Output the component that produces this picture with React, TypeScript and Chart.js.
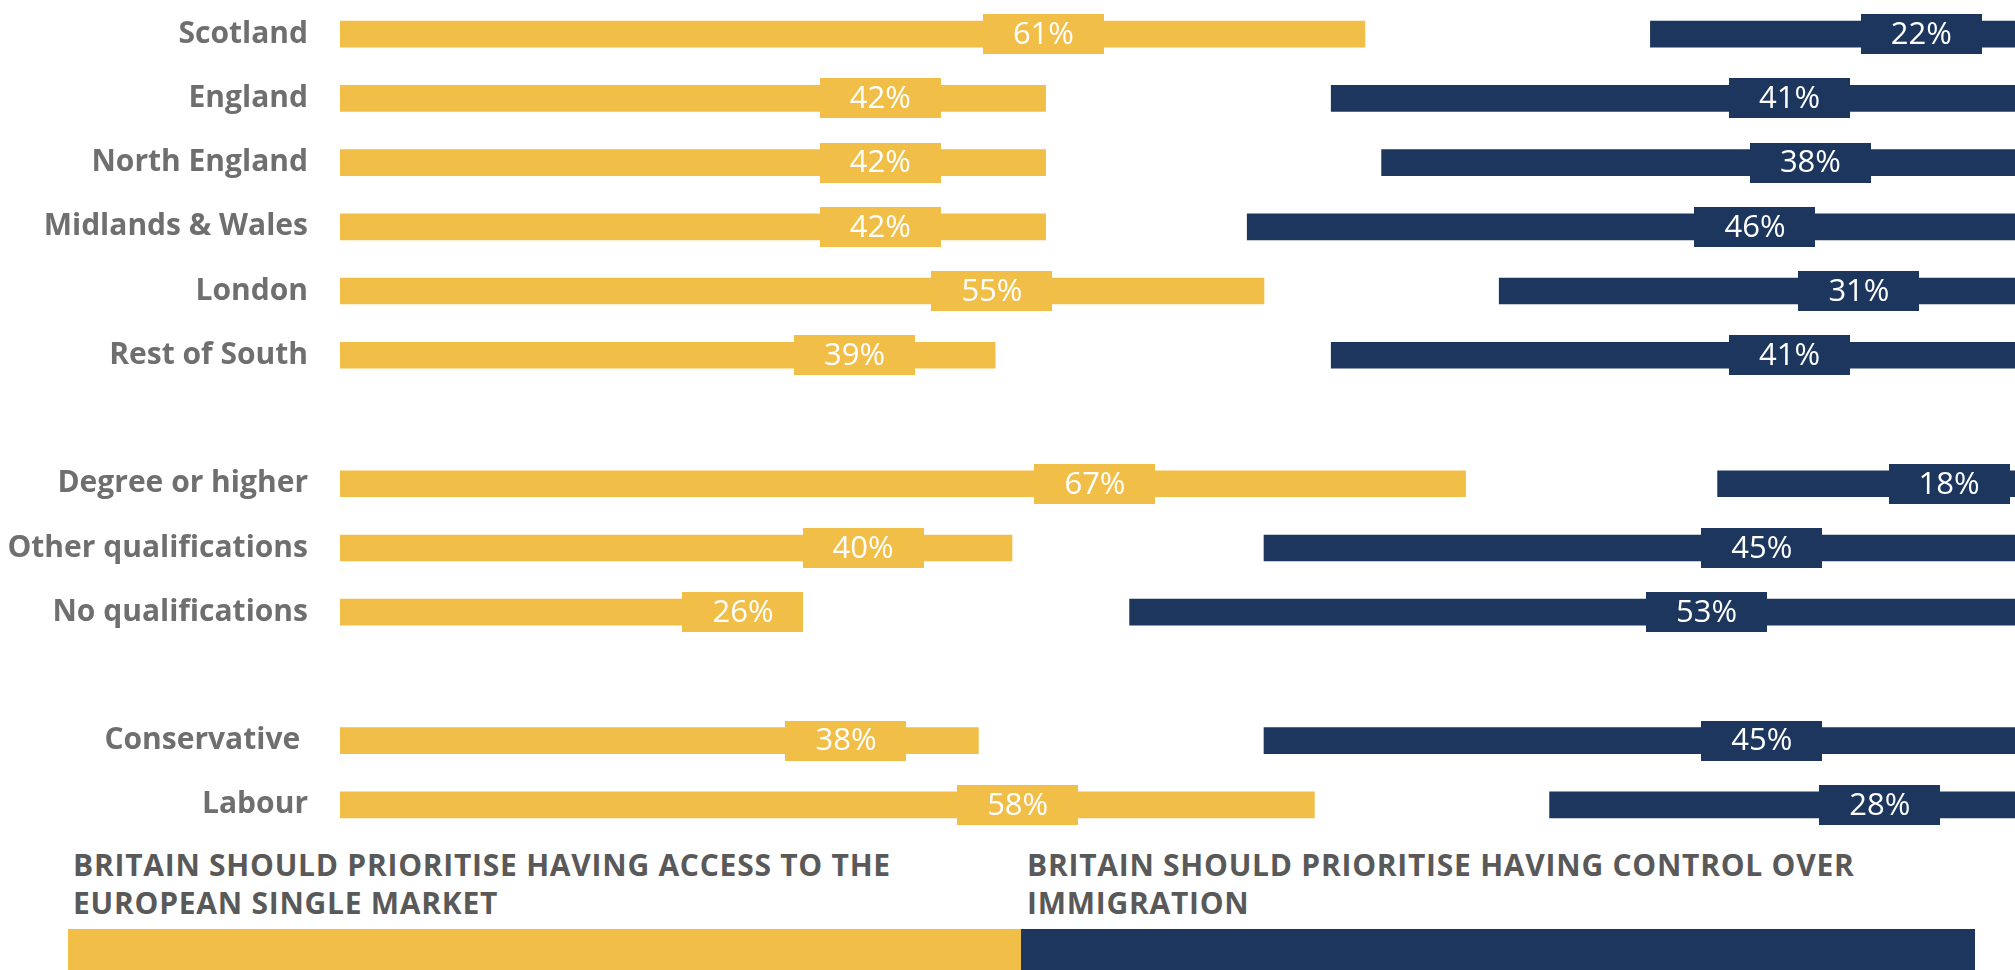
import React, { useEffect, useRef } from "react";
import { Chart, registerables } from "chart.js";

Chart.register(...registerables);

const categories = [
  "Scotland",
  "England",
  "North England",
  "Midlands & Wales",
  "London",
  "Rest of South",
  "",
  "Degree or higher",
  "Other qualifications",
  "No qualifications",
  "",
  "Conservative ",
  "Labour",
];

const singleMarket = [61, 42, 42, 42, 55, 39, null, 67, 40, 26, null, 38, 58];
const immigration = [22, 41, 38, 46, 31, 41, null, 18, 45, 53, null, 45, 28];

const legendLeft = ["BRITAIN SHOULD PRIORITISE HAVING ACCESS TO THE", "EUROPEAN SINGLE MARKET"];
const legendRight = ["BRITAIN SHOULD PRIORITISE HAVING CONTROL OVER", "IMMIGRATION"];

const YELLOW = "#F1BE48";
const NAVY = "#1C365D";

const labelPlugin = {
  id: "boxLabels",
  afterDatasetsDraw(chart: any) {
    const { ctx, scales } = chart;
    const x = scales.x;
    ctx.save();
    chart.data.datasets.forEach((ds: any, di: number) => {
      const meta = chart.getDatasetMeta(di);
      const values = di === 0 ? singleMarket : immigration;
      meta.data.forEach((bar: any, i: number) => {
        const v = values[i];
        if (v == null) return;
        const pos = di === 0 ? 10.7 + 0.511 * v : 103.2 - 0.4125 * v;
        const cx = x.getPixelForValue(pos);
        const cy = bar.y;
        ctx.fillStyle = ds.backgroundColor;
        ctx.fillRect(Math.round(cx - 60.5), Math.round(cy - 20), 121, 40);
        ctx.fillStyle = "#FFFFFF";
        ctx.font = "31px 'Open Sans'";
        ctx.textAlign = "center";
        ctx.textBaseline = "middle";
        ctx.fillText(v + "%", cx, cy + 1);
      });
    });
    ctx.restore();
  },
};

export default function App() {
  const canvasRef = useRef<HTMLCanvasElement>(null);

  useEffect(() => {
    document.body.style.margin = "0";
    document.body.style.overflow = "hidden";
    const canvas = canvasRef.current;
    if (!canvas) return;
    const chart = new Chart(canvas, {
      type: "bar",
      data: {
        labels: categories,
        datasets: [
          {
            label: "Access to the European single market",
            data: singleMarket.map((v) => (v == null ? null : [0, v])) as any,
            backgroundColor: YELLOW,
            barThickness: 26,
            grouped: false,
          },
          {
            label: "Control over immigration",
            data: immigration.map((v) => (v == null ? null : [100 - v, 100])) as any,
            backgroundColor: NAVY,
            barThickness: 26,
            grouped: false,
          },
        ],
      },
      options: {
        indexAxis: "y",
        animation: false,
        responsive: false,
        devicePixelRatio: 1,
        layout: { padding: { top: 2, bottom: 3, right: 10, left: 0 } },
        plugins: {
          legend: { display: false },
          tooltip: { enabled: false },
        },
        scales: {
          x: { type: "linear", min: 0, max: 100, display: false },
          y: {
            type: "category",
            grid: { display: false, drawTicks: false },
            border: { display: false },
            ticks: {
              autoSkip: false,
              padding: 32,
              color: "#6F6F6F",
              font: { family: "'Open Sans'", size: 30, weight: "bold" },
            },
            afterFit(scale: any) {
              scale.width = 340;
              scale.paddingTop = 0;
              scale.paddingBottom = 0;
            },
          },
        },
      },
      plugins: [labelPlugin],
    });
    return () => chart.destroy();
  }, []);

  const textStyle: React.CSSProperties = {
    position: "absolute",
    top: 846,
    fontFamily: "'Open Sans', sans-serif",
    fontWeight: 700,
    fontSize: 30,
    letterSpacing: "0.75px",
    lineHeight: "38px",
    color: "#595959",
    whiteSpace: "nowrap",
  };

  return (
    <div
      style={{
        position: "fixed",
        left: 0,
        top: 0,
        width: 2015,
        height: 970,
        overflow: "hidden",
        background: "#FFFFFF",
      }}
    >
      <canvas ref={canvasRef} width={2030} height={840} style={{ position: "absolute", left: 0, top: 0 }} />
      <div style={{ ...textStyle, left: 73 }}>
        {legendLeft.map((l, i) => (
          <div key={i}>{l}</div>
        ))}
      </div>
      <div style={{ ...textStyle, left: 1027 }}>
        {legendRight.map((l, i) => (
          <div key={i}>{l}</div>
        ))}
      </div>
      <div style={{ position: "absolute", left: 68, top: 929, width: 953, height: 41, background: YELLOW }} />
      <div style={{ position: "absolute", left: 1021, top: 929, width: 954, height: 41, background: NAVY }} />
    </div>
  );
}
